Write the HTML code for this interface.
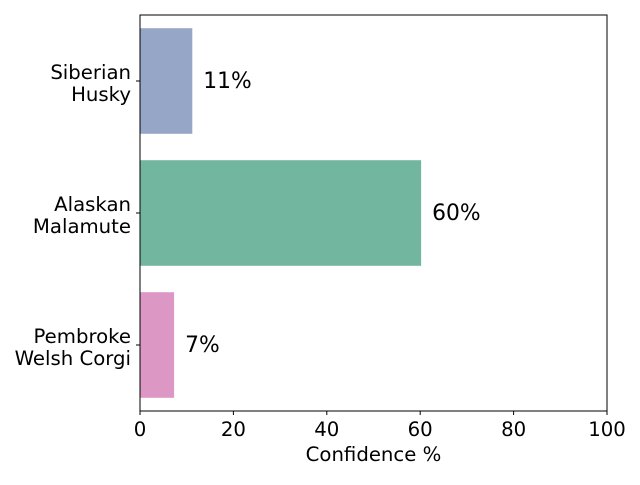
<!DOCTYPE html>
<html><head><meta charset="utf-8"><style>
body{margin:0;background:#fff;}
svg text{font-family:"DejaVu Sans","Liberation Sans",sans-serif;fill:#000;}
</style></head><body>
<svg id="chart" width="640" height="480"></svg>
<script>
const categories=[["Siberian","Husky"],["Alaskan","Malamute"],["Pembroke","Welsh Corgi"]];
const values=[11.2,60.2,7.3];
const colors=["#96a6c6","#73b6a0","#dc97c4"];
const xTicks=[0,20,40,60,80,100];
const svg=document.getElementById('chart');
const NS="http://www.w3.org/2000/svg";
const L=140,R=607,T=15,B=411;
const x=v=>L+(v/100)*(R-L);
const band=(B-T)/categories.length;
const y=i=>T+band*(i+0.5);
function mk(tag,attrs,parent){const e=document.createElementNS(NS,tag);for(const k in attrs)e.setAttribute(k,attrs[k]);(parent||svg).appendChild(e);return e;}
values.forEach((v,i)=>{
  const bh=band*0.8;
  const r=mk('rect',{x:x(0),y:y(i)-bh/2,width:x(v)-x(0),height:bh,fill:colors[i]});
  
  
  const t=mk('text',{x:x(v)+11,y:y(i)+7,'font-size':'21.8'});t.textContent=Math.round(v)+'%';
  
  
  mk('line',{x1:L-4,x2:L,y1:y(i),y2:y(i),stroke:'#000','stroke-width':1});
  const lab=mk('text',{x:L-9,y:y(i)-2,'font-size':'19.7','text-anchor':'end'});
  
  
  categories[i].forEach((s,j)=>{const ts=mk('tspan',{x:L-9,dy:j==0?'-1':'22'},lab);ts.textContent=s;});
  lab.setAttribute('y',y(i)-1);
});
xTicks.forEach(v=>{
  mk('line',{x1:x(v),x2:x(v),y1:B,y2:B+4,stroke:'#000','stroke-width':1});
  const t=mk('text',{x:x(v),y:B+25,'font-size':'19.7','text-anchor':'middle'});t.textContent=v;
  
  
});
const fr=mk('rect',{x:L,y:T,width:R-L,height:B-T,fill:'none',stroke:'#000','stroke-width':1});


const xl=mk('text',{x:(L+R)/2,y:461,'font-size':'19.7','text-anchor':'middle'});xl.textContent='Confidence %';


</script>
</body></html>
